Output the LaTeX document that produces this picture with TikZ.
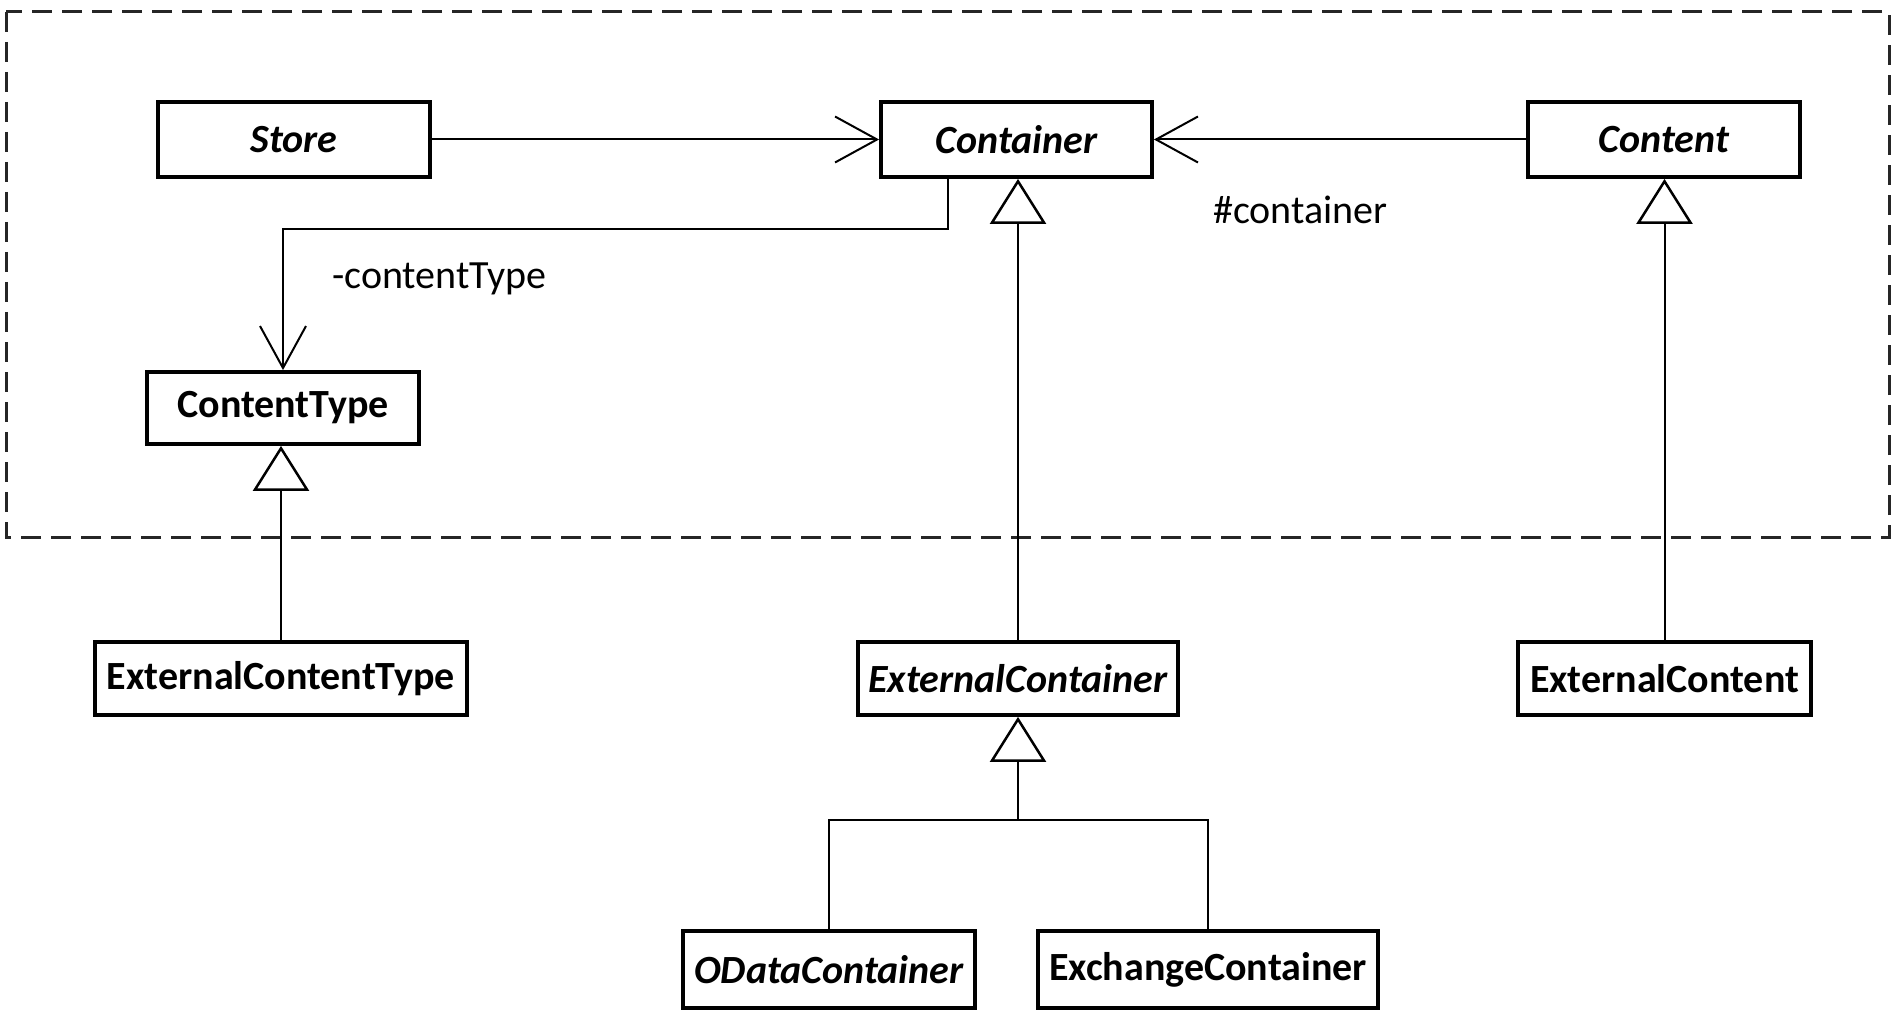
\documentclass[tikz,border=0pt]{standalone}
\usepackage{fontspec}
\setmainfont{Carlito}
\usetikzlibrary{arrows.meta,calc}
\begin{document}
\begin{tikzpicture}[x=1pt,y=-1pt,
  cls/.style={draw=black, line width=3.8pt, fill=white, inner sep=0pt, minimum height=75pt, font=\fontsize{40}{46}\selectfont\bfseries},
  conn/.style={line width=2pt, draw=black},
  assoc/.style={conn, -{Straight Barb[length=42pt,width=46pt,line width=2pt]}},
  gen/.style={conn, -{Triangle[open,length=45pt,width=56pt,line width=2.5pt,fill=white]}},
  lbl/.style={font=\fontsize{40}{46}\selectfont, inner sep=0pt, anchor=west},
  pkg/.style={draw=black!85, line width=3pt, dash pattern=on 20pt off 10pt}
]
\useasboundingbox (0,0) rectangle (1893,1016);
\draw[pkg] (6,12) rectangle (1889,537);

\node[cls, minimum width=272pt] (store) at (294,139.5) {\textit{Store}};
\node[cls, minimum width=271pt] (container) at (1016.5,139.5) {\textit{Container}};
\node[cls, minimum width=272pt] (content) at (1664,139.5) {\textit{Content}};
\node[cls, minimum width=272pt, minimum height=72pt] (ctype) at (283,408) {ContentType};
\node[cls, minimum width=372pt, minimum height=73pt] (extctype) at (281,678.5) {ExternalContentType};
\node[cls, minimum width=320pt, minimum height=73pt] (extcontainer) at (1018,678.5) {\textit{ExternalContainer}};
\node[cls, minimum width=293pt, minimum height=73pt] (extcontent) at (1664.5,678.5) {ExternalContent};
\node[cls, minimum width=292pt, minimum height=77pt] (odata) at (829,969.5) {\textit{ODataContainer}};
\node[cls, minimum width=340pt, minimum height=77pt] (exchange) at (1208,969.5) {ExchangeContainer};

% associations
\draw[assoc] (store.east) -- (container.west);
\draw[assoc] (content.west) -- (container.east);
\coordinate (cexit) at ($(container.south west)!0.25!(container.south east)$);
\coordinate (bend) at (cexit |- 0,229);
\draw[assoc] (cexit) -- (bend) -| (ctype.north);

\node[lbl] (lct) at (332,279) {-contentType};
\node[lbl] (lc) at (1213,210) {\#container};

% generalizations
\draw[gen] (extctype.north) -- (extctype.north |- ctype.south);
\draw[gen] (extcontainer.north) -- (extcontainer.north |- container.south);
\draw[gen] (extcontent.north) -- (extcontent.north |- content.south);
\coordinate (join) at (extcontainer.south |- 0,820);
\draw[conn] (odata.north) |- (join) -| (exchange.north);
\draw[gen] (join) -- (extcontainer.south);
\end{tikzpicture}
\end{document}
